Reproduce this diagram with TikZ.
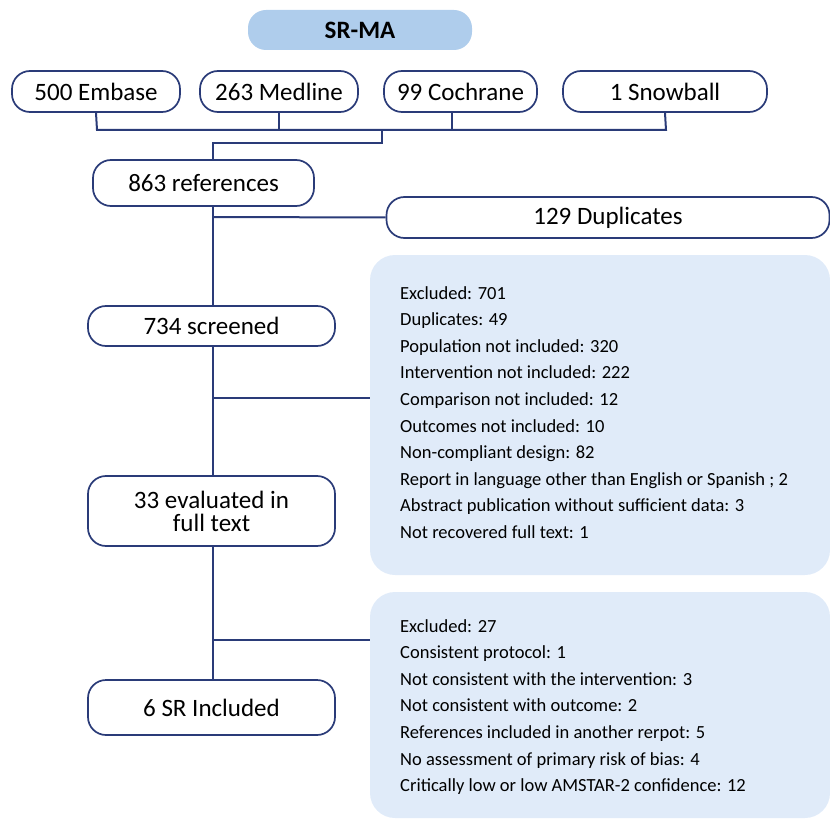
\documentclass[tikz,border=0pt]{standalone}
\usepackage{fontspec}
\setmainfont{Carlito}
\definecolor{navy}{HTML}{2A3B78}
\definecolor{headblue}{HTML}{AFCDEC}
\definecolor{panel}{HTML}{E0EBF9}
\begin{document}
\begin{tikzpicture}[x=1pt,y=-1pt,
  pill/.style={draw=navy,line width=1.7pt,rounded corners=18pt,fill=white,inner sep=0pt,font=\fontsize{25}{26}\selectfont,align=center},
  panelbox/.style={fill=panel,rounded corners=25pt,inner sep=0pt},
  conn/.style={draw=navy,line width=2pt},
  lst/.style={anchor=north west,align=left,inner sep=0pt,font=\fontsize{18.5}{26.6}\selectfont}]
\useasboundingbox (0,0) rectangle (830,821);
% header
\node[fill=headblue,rounded corners=18pt,minimum width=224pt,minimum height=40pt,inner sep=0pt,font=\fontsize{25}{26}\selectfont\bfseries] (srma) at (360,30) {SR-MA};
% sources
\node[pill,minimum width=168pt,minimum height=41pt] (emb) at (96,91.5) {500 Embase};
\node[pill,minimum width=158pt,minimum height=41pt] (med) at (279,91.5) {263 Medline};
\node[pill,minimum width=153pt,minimum height=41pt] (coc) at (460.5,91.5) {99 Cochrane};
\node[pill,minimum width=204pt,minimum height=41pt] (snow) at (665,91.5) {1 Snowball};
% main flow
\node[pill,minimum width=221pt,minimum height=46pt] (refs) at (203.5,183) {863 references};
\node[pill,minimum width=443pt,minimum height=41pt] (dup) at (608,217.5) {129 Duplicates};
\node[pill,minimum width=247pt,minimum height=40pt] (scr) at (211.5,326) {734 screened};
\node[pill,minimum width=247pt,minimum height=70pt] (full) at (211.5,511) {33 evaluated in\\[-3pt]full text};
\node[pill,minimum width=247pt,minimum height=55pt] (incl) at (211.5,707.5) {6 SR Included};
% panels
\node[panelbox,minimum width=460pt,minimum height=320pt] (p1) at (600,415) {};
\node[panelbox,minimum width=460pt,minimum height=226pt] (p2) at (600,705) {};
\node[lst] (t1) at (400,286) {Excluded: 701\\Duplicates: 49\\Population not included: 320\\Intervention not included: 222\\Comparison not included: 12\\Outcomes not included: 10\\Non-compliant design: 82\\Report in language other than English or Spanish ; 2\\Abstract publication without sufficient data: 3\\Not recovered full text: 1};
\node[lst] (t2) at (400,619) {Excluded: 27\\Consistent protocol: 1\\Not consistent with the intervention: 3\\Not consistent with outcome: 2\\References included in another rerpot: 5\\No assessment of primary risk of bias: 4\\Critically low or low AMSTAR-2 confidence: 12};
% connectors
\coordinate (bar1) at (97,130);
\coordinate (bar2) at (666,130);
\draw[conn] (emb.south) -- (bar1) -- (bar2) -- (snow.south);
\draw[conn] (med.south) -- (med.south |- bar1);
\draw[conn] (452,112) -- (452,130);
\coordinate (jn) at (382,130);
\coordinate (jn2) at (382,143);
\draw[conn] (jn) -- (jn2) -- (213,143) -- (213,160);
\draw[conn] (213,206) -- (213,306);
\draw[conn] (213,217) -- (dup.west);
\draw[conn] (213,346) -- (213,476);
\draw[conn] (213,398) -- (p1.west |- 0,398);
\draw[conn] (213,546) -- (213,680);
\draw[conn] (213,640) -- (p2.west |- 0,640);
\end{tikzpicture}
\end{document}
